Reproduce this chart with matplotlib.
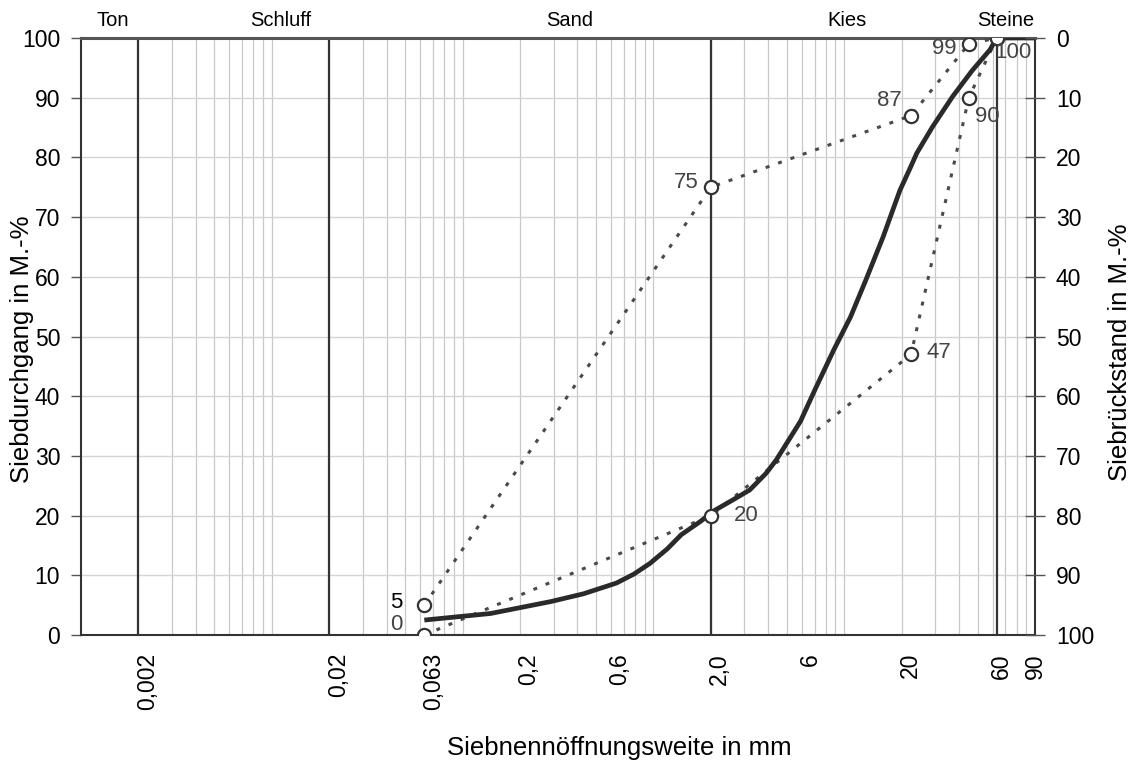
import numpy as np
import matplotlib
matplotlib.use("Agg")
import matplotlib.pyplot as plt
import matplotlib.transforms as mtransforms

plt.rcParams["font.family"] = ["Liberation Sans", "DejaVu Sans"]

# Sieblinie (durchgezogen)
curve_d = [0.063, 0.14, 0.29, 0.43, 0.64, 0.79, 0.96, 1.18, 1.4, 1.76, 2.1, 2.6, 3.2, 3.9,
           4.4, 5.2, 5.9, 7.1, 8.8, 10.8, 13, 16, 19.6, 22.3, 24, 29, 37, 47, 58, 63, 100]
curve_p = [2.5, 3.6, 5.6, 6.9, 8.7, 10.2, 12.0, 14.4, 16.8, 19.0, 20.9, 22.6, 24.3, 27.1,
           29.3, 33.0, 35.8, 41.4, 47.7, 53.3, 59.5, 66.7, 74.5, 78.4, 80.7, 85.1, 90.2, 94.6, 98, 100, 100]

# Grenzlinien (gepunktet) an den Siebgroessen
sieve_d = [0.063, 2.0, 22.4, 45, 63]
upper_p = [5, 75, 87, 99, 100]
lower_p = [0, 20, 47, 90, 100]

xtick_vals = [0.002, 0.02, 0.063, 0.2, 0.6, 2.0, 6, 20, 60, 90]
xtick_labels = ["0,002", "0,02", "0,063", "0,2", "0,6", "2,0", "6", "20", "60", "90"]
ytick_vals = list(range(0, 101, 10))

zones = ["Ton", "Schluff", "Sand", "Kies", "Steine"]
zone_x = [0.00147, 0.0112, 0.366, 10.3, 70]
zone_bounds = [0.002, 0.02, 2.0, 63]

# label offsets in pixels (dx, dy) for the point labels
upper_off = [(-28, 3), (-25, 5), (-22, 15), (-25, -5), (16, -15)]
lower_off = [(-28, 10), (35, 0), (28, 2), (18, -19), (None, None)]

fig = plt.figure(figsize=(11.35, 7.67), dpi=100)
ax = fig.add_axes([81 / 1135, 1 - 635 / 767, (1035 - 81) / 1135, (635 - 38) / 767])
ax.set_xscale("log")
ax.set_xlim(0.001, 100)
ax.set_ylim(0, 100)

# light grid
for k in range(-3, 2):
    for m in range(1, 10):
        x = m * 10.0 ** k
        if x < 0.0029 or x > 99:
            continue
        ax.axvline(x, color="#c8c8c8", lw=0.9, zorder=1)
for y in ytick_vals[1:-1]:
    ax.axhline(y, color="#d4d4d4", lw=1.0, zorder=1)
for x in zone_bounds:
    ax.axvline(x, color="#333333", lw=1.6, zorder=2)

dot = (0, (1.3, 3))
ax.plot(sieve_d, upper_p, ls=dot, color="#4a4a4a", lw=2.2, zorder=3)
ax.plot(sieve_d, lower_p, ls=dot, color="#4a4a4a", lw=2.2, zorder=3)
ax.plot(curve_d, curve_p, color="#2a2a2a", lw=3.4, zorder=4, solid_capstyle="butt",
        solid_joinstyle="round")
ax.plot(sieve_d + sieve_d, upper_p + lower_p, ls="none", marker="o", ms=9.5,
        mfc="white", mec="#333333", mew=1.6, zorder=5)

for d, p, (dx, dy) in zip(sieve_d, upper_p, upper_off):
    ax.annotate(str(p), (d, p), xytext=(dx, dy), textcoords="offset pixels",
                ha="center", va="center", fontsize=16,
                color="black" if p == 5 else "#444444", zorder=6)
for d, p, (dx, dy) in zip(sieve_d, lower_p, lower_off):
    if dx is None:
        continue
    ax.annotate(str(p), (d, p), xytext=(dx, dy), textcoords="offset pixels",
                ha="center", va="center", fontsize=16, color="#444444", zorder=6,
                annotation_clip=False)

trans = mtransforms.blended_transform_factory(ax.transData, ax.transAxes)
for name, x in zip(zones, zone_x):
    ax.text(x, 1.03, name, transform=trans, ha="center", va="center", fontsize=14.5)

ax.set_xticks(xtick_vals)
ax.set_xticklabels(xtick_labels)
ax.xaxis.set_minor_locator(matplotlib.ticker.NullLocator())
ax.tick_params(axis="x", length=0, pad=13, labelsize=16.5, labelrotation=90)
shift = mtransforms.ScaledTranslation(9 / 100, 0, fig.dpi_scale_trans)
for lab in ax.get_xticklabels():
    lab.set_transform(lab.get_transform() + shift)

ax.set_yticks(ytick_vals)
ax.tick_params(axis="y", direction="out", length=7, width=1, color="#555555", pad=8, labelsize=16.5)

for s in ax.spines.values():
    s.set_color("#333333")
    s.set_linewidth(1.5)
ax.spines["top"].set_linewidth(2.2)
ax.spines["top"].set_color("#555555")

ax2 = ax.twinx()
ax2.set_ylim(100, 0)
ax2.set_yticks(ytick_vals)
ax2.tick_params(axis="y", direction="inout", length=14, width=1, color="#555555", pad=8, labelsize=16.5)
for s in ax2.spines.values():
    s.set_visible(False)

fig.text(619 / 1135, 1 - 748 / 767, "Siebnennöffnungsweite in mm", ha="center", va="center", fontsize=18.5)
fig.text(22 / 1135, 1 - 349 / 767, "Siebdurchgang in M.-%", ha="center", va="center", rotation=90, fontsize=18.5)
fig.text(1120 / 1135, 1 - 352 / 767, "Siebrückstand in M.-%", ha="center", va="center", rotation=90, fontsize=18.5)

fig.savefig("out.png", dpi=100)
